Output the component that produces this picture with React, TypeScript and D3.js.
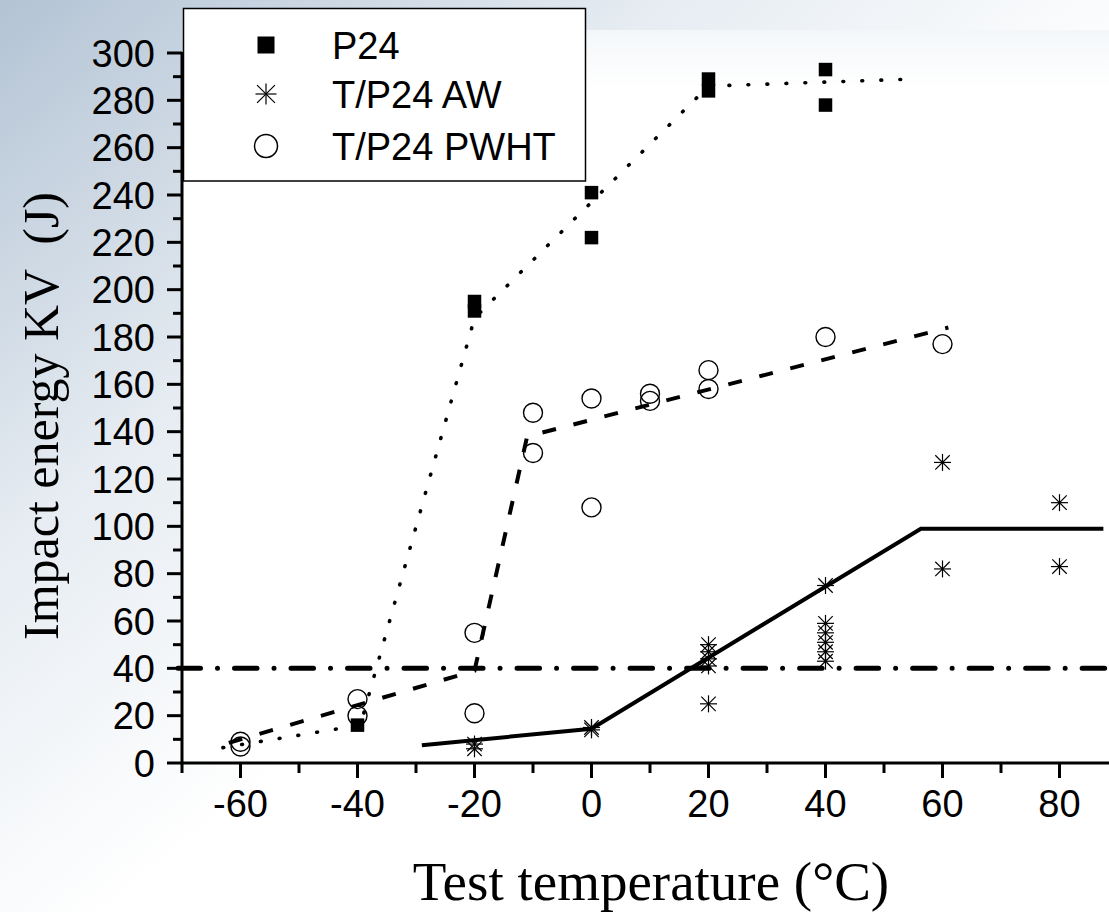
import React from "react";
import * as d3 from "d3";

const W = 1109;
const H = 912;

// Data
const p24Temps = [-40, -20, -20, 0, 0, 20, 20, 40, 40];
const p24Values = [16, 195, 191, 241, 222, 289, 284, 293, 278];

const awTemps = [-20, -20, 0, 0, 20, 20, 20, 20, 20, 40, 40, 40, 40, 40, 40, 60, 60, 80, 80];
const awValues = [8, 6, 15, 14, 50, 47, 44, 41, 25, 75, 59, 55, 51, 47, 43, 127, 82, 110, 83];

const pwhtTemps = [-60, -60, -40, -40, -20, -20, -10, -10, 0, 0, 10, 10, 20, 20, 40, 60];
const pwhtValues = [7, 9, 27, 20, 55, 21, 148, 131, 154, 108, 156, 153, 166, 158, 180, 177];

// Fitted trend lines (temperature, energy)
const p24FitT = [-63, -39.5, -20, 20, 55];
const p24FitV = [6.5, 16, 188, 286, 289];
const pwhtFitT = [-62, -20, -11, 61];
const pwhtFitV = [8.5, 39, 138, 184];
const awFitT = [-29, 0, 56.3, 87.5];
const awFitV = [7.5, 14.5, 99, 99];

const thresholdValue = 40;

const xMajor = [-60, -40, -20, 0, 20, 40, 60, 80];
const xMinor = [-70, -50, -30, -10, 10, 30, 50, 70];
const yMajor = d3.range(0, 301, 20);
const yMinor = d3.range(10, 300, 20);

const legendItems = ["P24", "T/P24 AW", "T/P24 PWHT"];

const x = d3.scaleLinear().domain([-70, 90]).range([182, 1118]);
const y = d3.scaleLinear().domain([0, 300]).range([763, 53]);

const line = d3
  .line<[number, number]>()
  .x((d) => x(d[0]))
  .y((d) => y(d[1]));

const zip = (a: number[], b: number[]) => a.map((v, i) => [v, b[i]] as [number, number]);

function Asterisk({ cx, cy, r }: { cx: number; cy: number; r: number }) {
  const d = r * 0.85;
  return (
    <g stroke="#000" strokeWidth={1.2}>
      <line x1={cx} y1={cy - r} x2={cx} y2={cy + r} />
      <line x1={cx - r} y1={cy} x2={cx + r} y2={cy} />
      <line x1={cx - d} y1={cy - d} x2={cx + d} y2={cy + d} />
      <line x1={cx - d} y1={cy + d} x2={cx + d} y2={cy - d} />
    </g>
  );
}

export default function App() {
  const axisFont = "'Liberation Sans', Arial, sans-serif";
  const serif = "'Liberation Serif', 'Times New Roman', serif";
  return (
    <svg width={W} height={H} style={{ display: "block", position: "absolute", left: 0, top: 0 }}>
      <defs>
        <linearGradient id="bg" x1="0" y1="0" x2="1" y2="1">
          <stop offset="0" stopColor="#b3c3d4" />
          <stop offset="0.3" stopColor="#e6ecf2" />
          <stop offset="0.55" stopColor="#ffffff" />
          <stop offset="1" stopColor="#ffffff" />
        </linearGradient>
        <linearGradient id="plotbg" x1="0" y1="0" x2="0" y2="1">
          <stop offset="0" stopColor="#f4f7fa" />
          <stop offset="0.08" stopColor="#ffffff" />
          <stop offset="1" stopColor="#ffffff" />
        </linearGradient>
      </defs>
      <rect x={0} y={0} width={W} height={H} fill="url(#bg)" />
      <rect x={183} y={30} width={W - 183} height={763 - 30} fill="url(#plotbg)" />

      {/* threshold dash-dot line */}
      <line
        x1={178}
        x2={W}
        y1={y(thresholdValue)}
        y2={y(thresholdValue)}
        stroke="#000"
        strokeWidth={5}
        strokeLinecap="round"
        strokeDasharray="22.5 17 0.01 17"
      />

      {/* fit lines */}
      <path
        d={line(zip(p24FitT, p24FitV)) || ""}
        fill="none"
        stroke="#000"
        strokeWidth={3.6}
        strokeLinecap="round"
        strokeDasharray="0.8 18.2"
      />
      <path
        d={line(zip(pwhtFitT, pwhtFitV)) || ""}
        fill="none"
        stroke="#000"
        strokeWidth={4}
        strokeDasharray="14 18"
      />
      <path d={line(zip(awFitT, awFitV)) || ""} fill="none" stroke="#000" strokeWidth={4} />

      {/* markers */}
      {p24Temps.map((t, i) => (
        <rect key={"p" + i} x={x(t) - 6.75} y={y(p24Values[i]) - 6.75} width={13.5} height={13.5} fill="#000" />
      ))}
      {pwhtTemps.map((t, i) => (
        <circle key={"c" + i} cx={x(t)} cy={y(pwhtValues[i])} r={9.5} fill="none" stroke="#000" strokeWidth={1.4} />
      ))}
      {awTemps.map((t, i) => (
        <Asterisk key={"a" + i} cx={x(t)} cy={y(awValues[i])} r={8.5} />
      ))}

      {/* axes */}
      <line x1={182} x2={182} y1={y(300) - 1} y2={764.5} stroke="#000" strokeWidth={3} />
      <line x1={180.5} x2={W} y1={763} y2={763} stroke="#000" strokeWidth={3} />
      {yMajor.map((v) => (
        <g key={"ym" + v}>
          <line x1={167} x2={182} y1={y(v)} y2={y(v)} stroke="#000" strokeWidth={3} />
          <text
            x={155}
            y={y(v)}
            dy="0.36em"
            textAnchor="end"
            fontFamily={axisFont}
            fontSize={38}
            fill="#000"
          >
            {v}
          </text>
        </g>
      ))}
      {yMinor.map((v) => (
        <line key={"yn" + v} x1={173} x2={182} y1={y(v)} y2={y(v)} stroke="#000" strokeWidth={3} />
      ))}
      {xMajor.map((v) => (
        <g key={"xm" + v}>
          <line x1={x(v)} x2={x(v)} y1={763} y2={778} stroke="#000" strokeWidth={3} />
          <text x={x(v)} y={817} textAnchor="middle" fontFamily={axisFont} fontSize={38} fill="#000">
            {v}
          </text>
        </g>
      ))}
      {xMinor.map((v) => (
        <line key={"xn" + v} x1={x(v)} x2={x(v)} y1={763} y2={773} stroke="#000" strokeWidth={3} />
      ))}

      {/* axis titles */}
      <text x={651} y={900} textAnchor="middle" fontFamily={serif} fontSize={55} fill="#000">
        Test temperature (°C)
      </text>
      <text
        transform={`translate(58,416) rotate(-90)`}
        textAnchor="middle"
        fontFamily={serif}
        fontSize={50}
        fill="#000"
        style={{ whiteSpace: "pre" }}
      >
        {"Impact energy KV  (J)"}
      </text>

      {/* legend */}
      <rect x={183.5} y={8.5} width={402} height={172.5} fill="#ffffff" stroke="#000" strokeWidth={1.5} />
      {legendItems.map((label, i) => {
        const cy = [45, 94, 146][i];
        return (
          <g key={label}>
            {i === 0 && <rect x={257.5} y={cy - 8.5} width={17} height={17} fill="#000" />}
            {i === 1 && <Asterisk cx={266} cy={cy} r={10.5} />}
            {i === 2 && <circle cx={266} cy={cy} r={11.5} fill="none" stroke="#000" strokeWidth={1.5} />}
            <text x={332} y={cy} dy="0.36em" fontFamily={axisFont} fontSize={38} fill="#000">
              {label}
            </text>
          </g>
        );
      })}
    </svg>
  );
}
